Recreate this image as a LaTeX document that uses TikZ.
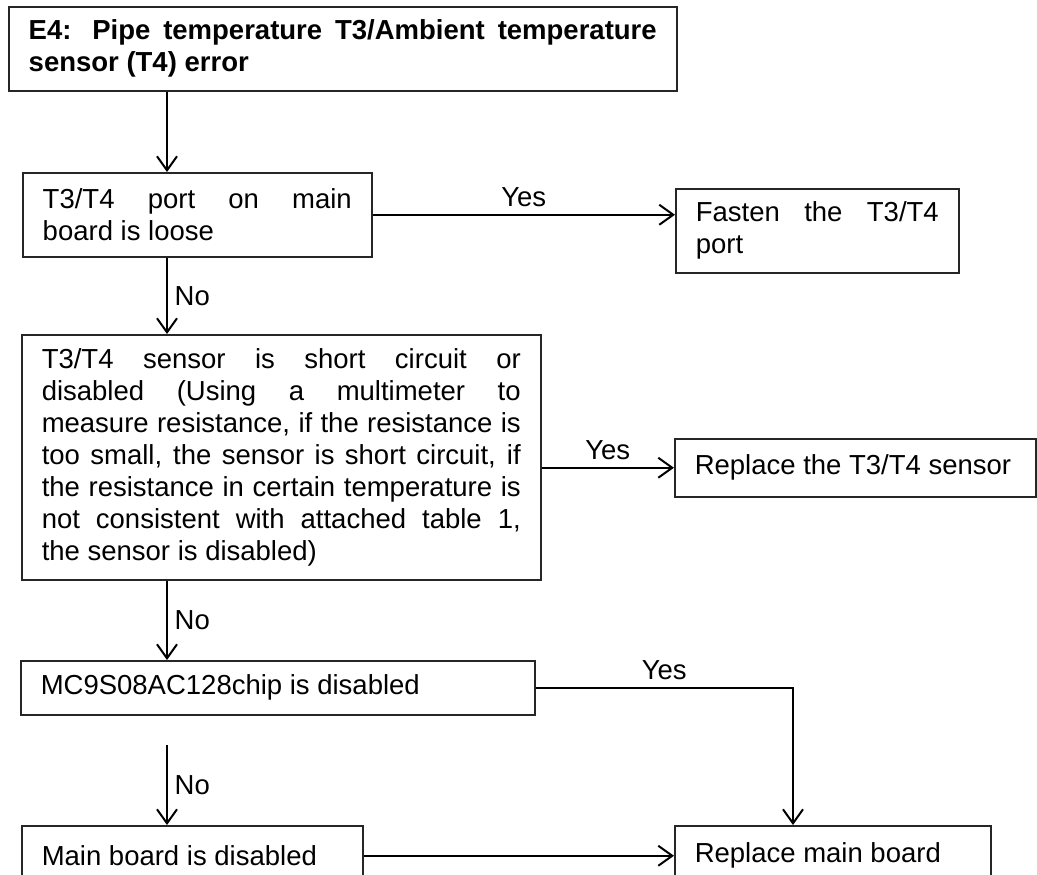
\documentclass[tikz,border=0pt]{standalone}
\usepackage{fontspec}
\setmainfont{Liberation Sans}
\usetikzlibrary{arrows.meta}
\begin{document}
\begin{tikzpicture}[x=.5pt,y=-.5pt,>={Straight Barb[length=7pt,width=10pt]},line join=miter,
	font=\fontsize{13.75pt}{16pt}\selectfont,
	box/.style={draw=black!85,line width=.75pt,anchor=north west,inner xsep=10pt,inner ysep=0pt,align=justify},
	head/.style={box,font=\fontsize{13.75pt}{16pt}\selectfont\bfseries},
	link/.style={->,line width=1pt}]
	\useasboundingbox (0,0) rectangle (1037,874);
	\path (167,0) coordinate (T)
	(793,0) coordinate (R)
	(167,745) coordinate (G);
	% checks down the left, fixes on the right
	\node[head,text width=314pt,minimum height=42pt] (E4) at (8,6) {E4: Pipe temperature T3/Ambient temperature\linebreak sensor (T4) error};
	\node[box,text width=154.5pt,minimum height=42pt] (port) at (22,172) {T3/T4 port on main\linebreak board is loose};
	\node[box,text width=121.5pt,minimum height=42pt] (fasten) at (675,188) {Fasten the T3/T4\linebreak port};
	\node[box,text width=239.5pt,minimum height=122.5pt] (sensor) at (21,334) {T3/T4 sensor is short circuit or\linebreak disabled (Using a multimeter to\linebreak measure resistance, if the resistance is\linebreak too small, the sensor is short circuit, if\linebreak the resistance in certain temperature is\linebreak not consistent with attached table 1,\linebreak the sensor is disabled)};
	\node[box,text width=160.5pt,minimum height=29pt] (swap) at (674,438) {Replace the T3/T4 sensor};
	\node[box,text width=237pt,minimum height=27pt] (chip) at (20,660) {MC9S08AC128chip is disabled};
	\node[box,text width=150.5pt,minimum height=30pt] (board) at (21,825) {Main board is disabled};
	\node[box,text width=138pt,minimum height=30pt] (newboard) at (674,825) {Replace main board};
	\draw[link] (E4.south -| T) -- (port.north -| T);
	\draw[link] (port.east) -- node[above]{Yes} (port.east -| fasten.west);
	\draw[link] (port.south -| T) -- node[right]{No} (sensor.north -| T);
	\draw[link] (swap.west -| sensor.east) -- node[above]{Yes} (swap.west);
	\draw[link] (sensor.south -| T) -- node[right]{No} (chip.north -| T);
	\draw[link] (chip.east) -- node[above]{Yes} (chip.east -| R) -- (newboard.north -| R);
	\draw[link] (G) -- node[right]{No} (board.north -| T);
	\draw[link] (board.east) -- (newboard.west);
\end{tikzpicture}
\end{document}
